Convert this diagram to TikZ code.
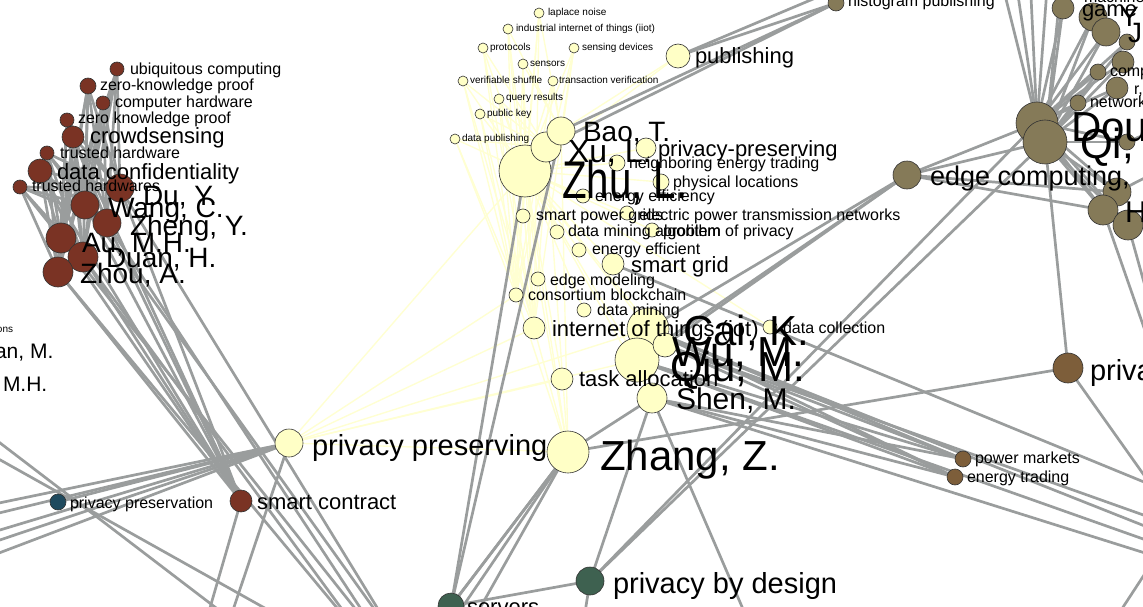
\documentclass[tikz,border=0pt]{standalone}
\usepackage{fontspec}
\setmainfont{Liberation Sans}
\usetikzlibrary{backgrounds}
\definecolor{brr}{HTML}{7A3324}
\definecolor{yel}{HTML}{FFFFC6}
\definecolor{olv}{HTML}{857A58}
\definecolor{brn}{HTML}{7D5E3A}
\definecolor{tlb}{HTML}{1F4A5E}
\definecolor{dkg}{HTML}{3E6150}
\definecolor{eg}{HTML}{9A9D9D}
\definecolor{ey}{HTML}{FFFFD2}
\definecolor{outl}{HTML}{333333}
\begin{document}
\begin{tikzpicture}[x=1pt,y=-1pt,
  vx/.style 2 args={circle, fill=#1, draw=outl, line width=0.6pt, minimum size={2*#2}, inner sep=0pt, outer sep=0pt},
  lb/.style={anchor=base west, inner sep=0pt, outer sep=0pt, text=black},
  f10/.style={lb, font=\fontsize{10}{12}\selectfont},
  f16/.style={lb, font=\fontsize{16}{18}\selectfont},
  f21/.style={lb, font=\fontsize{21}{24}\selectfont},
  f22/.style={lb, font=\fontsize{22}{24}\selectfont},
  f27/.style={lb, font=\fontsize{27}{30}\selectfont},
  f28/.style={lb, font=\fontsize{28}{30}\selectfont},
  f29/.style={lb, font=\fontsize{29}{32}\selectfont},
  f30/.style={lb, font=\fontsize{30}{32}\selectfont},
  f32/.style={lb, font=\fontsize{32}{34}\selectfont},
  f42/.style={lb, font=\fontsize{42}{44}\selectfont},
  f50/.style={lb, font=\fontsize{53}{55}\selectfont},
  ge/.style={draw=eg, line width=2.7pt},
  ye/.style={draw=ey, line width=1.4pt}]
\useasboundingbox (0,0) rectangle (1143,607);
\clip (0,0) rectangle (1143,607);

% ---------- left cluster nodes ----------
\node[vx={brr}{7}] (ubi) at (117,69) {};
\node[vx={brr}{8}] (zkp) at (88,86) {};
\node[vx={brr}{7}] (chw) at (103,103) {};
\node[vx={brr}{7}] (zkp2) at (67,120) {};
\node[vx={brr}{11}] (crowd) at (73,137) {};
\node[vx={brr}{7}] (thw) at (47,153) {};
\node[vx={brr}{12}] (dconf) at (40,171) {};
\node[vx={brr}{7}] (thws) at (20,187) {};
\node[vx={brr}{14}] (du) at (120,188) {};
\node[vx={brr}{14}] (wang) at (85,205) {};
\node[vx={brr}{14}] (zheng) at (107,223) {};
\node[vx={brr}{15}] (au) at (61,238) {};
\node[vx={brr}{15}] (duan) at (83,257) {};
\node[vx={brr}{15}] (zhou) at (58,272) {};
\node[vx={tlb}{8}] (pres) at (58,502) {};
\node[vx={brr}{11}] (sc) at (241,501) {};
\node[vx={yel}{14}] (pp) at (289,443) {};

% ---------- centre cluster nodes ----------
\node[vx={yel}{5}] (lap) at (539,13) {};
\node[vx={yel}{5}] (iiot) at (508,29) {};
\node[vx={yel}{5}] (proto) at (483,48) {};
\node[vx={yel}{5}] (sensd) at (574,48) {};
\node[vx={yel}{5}] (sensors) at (523,64) {};
\node[vx={yel}{5}] (verif) at (463,81) {};
\node[vx={yel}{5}] (trans) at (553,81) {};
\node[vx={yel}{5}] (query) at (499,99) {};
\node[vx={yel}{5}] (pkey) at (480,114) {};
\node[vx={yel}{5}] (dpub) at (455,139) {};
\node[vx={yel}{12}] (pub) at (678,56) {};
\node[vx={yel}{26}] (zhu) at (525,171) {};
\node[vx={yel}{15}] (xu) at (546,147) {};
\node[vx={yel}{14}] (bao) at (561,131) {};
\node[vx={yel}{10}] (ppg) at (646,148) {};
\node[vx={yel}{8}] (net) at (617,163) {};
\node[vx={yel}{8}] (phys) at (661,182) {};
\node[vx={yel}{7}] (eeff) at (583,196) {};
\node[vx={yel}{7}] (spg) at (523,216) {};
\node[vx={yel}{7}] (eptn) at (627,213) {};
\node[vx={yel}{7}] (dma) at (557,232) {};
\node[vx={yel}{7}] (pop) at (652,230) {};
\node[vx={yel}{7}] (eefft) at (579,250) {};
\node[vx={yel}{11}] (sg) at (613,264) {};
\node[vx={yel}{7}] (em) at (538,279) {};
\node[vx={yel}{7}] (cb) at (516,295) {};
\node[vx={yel}{7}] (dm) at (584,310) {};
\node[vx={yel}{11}] (iot) at (534,328) {};
\node[vx={yel}{7}] (dc) at (770,327) {};
\node[vx={yel}{21}] (cai) at (648,329) {};
\node[vx={yel}{22}] (qiu) at (637,360) {};
\node[vx={yel}{12}] (wu) at (665,345) {};
\node[vx={yel}{11}] (ta) at (562,379) {};
\node[vx={yel}{15}] (shen) at (652,398) {};
\node[vx={yel}{21}] (zhang) at (568,452) {};
\node[vx={dkg}{14}] (pbd) at (590,581) {};
\node[vx={dkg}{13}] (serv) at (451,606) {};

% ---------- right cluster nodes ----------
\node[vx={olv}{8}] (hist) at (836,3) {};
\node[vx={olv}{14}] (ec) at (907,175) {};
\node[vx={olv}{11}] (game) at (1063,8) {};
\node[vx={olv}{14}] (r1) at (1093,17) {};
\node[vx={olv}{14}] (r2) at (1106,32) {};
\node[vx={olv}{8}] (r3) at (1127,42) {};
\node[vx={olv}{11}] (r4) at (1123,62) {};
\node[vx={olv}{8}] (comp) at (1098,72) {};
\node[vx={olv}{11}] (r5) at (1117,88) {};
\node[vx={olv}{8}] (network) at (1078,103) {};
\node[vx={olv}{8}] (r6) at (1127,142) {};
\node[vx={olv}{21}] (dou) at (1037,123) {};
\node[vx={olv}{22}] (qi) at (1045,142) {};
\node[vx={olv}{14}] (h1) at (1117,192) {};
\node[vx={olv}{15}] (h2) at (1103,210) {};
\node[vx={olv}{15}] (h3) at (1128,225) {};
\node[vx={brn}{15}] (priva) at (1068,368) {};
\node[vx={brn}{8}] (pm) at (963,459) {};
\node[vx={brn}{8}] (et) at (955,477) {};

% ---------- free ends of connectors ----------
\coordinate (b1) at (372,650);
\coordinate (b2) at (388,650);
\coordinate (b3) at (400,645);
\coordinate (w1) at (-30,509);
\coordinate (w2) at (-30,520);
\coordinate (w3) at (-30,539);
\coordinate (w4) at (-30,550);
\coordinate (w5) at (-30,564);
\coordinate (pb1) at (228,625);
\coordinate (sb1) at (205,625);
\coordinate (ta1) at (-30,420);
\coordinate (ta2) at (245,630);
\coordinate (tb1) at (-30,443);
\coordinate (tb2) at (295,625);
\coordinate (pt1) at (870,-25);
\coordinate (z1) at (425,640);
\coordinate (z2) at (440,640);
\coordinate (z3) at (462,640);
\coordinate (pb2) at (583,625);
\coordinate (sb2) at (752,630);
\coordinate (sg1) at (1200,505);
\coordinate (e1) at (1180,540);
\coordinate (e2) at (1180,552);
\coordinate (e3) at (1180,528);
\coordinate (e4) at (1180,564);
\coordinate (pr1) at (1190,540);
\coordinate (t1) at (1000,-25);
\coordinate (t2) at (1015,-25);
\coordinate (t3) at (1030,-25);
\coordinate (t4) at (1048,-25);
\coordinate (t5) at (1062,-25);
\coordinate (rr1) at (1180,160);
\coordinate (rr2) at (1180,120);
\coordinate (rr3) at (1160,340);
\coordinate (rr4) at (1150,345);
\coordinate (br1) at (1180,520);
\coordinate (br2) at (1095,650);

% ---------- connectors ----------
\begin{scope}[on background layer]
\clip (0,0) rectangle (1143,607);
% light yellow connectors
\foreach \a in {lap,iiot,proto,sensd,sensors,verif,trans,query,pkey,dpub} {
  \draw[ye] (zhu) -- (\a);
  \draw[ye] (\a) -- (iot);
  \draw[ye] (\a) -- (cb);
}
\foreach \a in {lap,sensd,trans,iiot,sensors,pub} \draw[ye] (bao) -- (\a);
\foreach \a in {proto,verif,pkey,dpub,query} \draw[ye] (xu) -- (\a);
\foreach \a in {ppg,net,phys,eeff,spg,eptn,dma,pop,eefft,sg,em,cb,dm,iot,dc,ta,cai,qiu,wu,shen,zhang,pub} \draw[ye] (zhu) -- (\a);
\foreach \a in {zhu,iot,ta,qiu,cai,cb,zhang} \draw[ye] (pp) -- (\a);
\foreach \a in {xu,bao,iot,cb,em} \draw[ye] (zhang) -- (\a);
% grey connectors, left
\foreach \a in {ubi,zkp,chw,zkp2,crowd,thw,dconf,thws} {
  \foreach \b in {du,wang,zheng,au,duan,zhou} {\draw[ge] (\a) -- (\b);}
}
\foreach \a in {du,wang,zheng,au,duan,zhou,dconf,crowd} \draw[ge] (\a) -- (sc);
\foreach \a/\b in {zhou/b1,au/b2,duan/b1,wang/b3,zheng/b2,du/b3} \draw[ge] (\a) -- (\b);
\foreach \c in {w1,w2,w3,w4,w5} \draw[ge] (pp) -- (\c);
\draw[ge] (pp) -- (pb1);
\draw[ge] (sc) -- (sb1);
\draw[ge] (ta1) -- (ta2);
\draw[ge] (tb1) -- (tb2);
\draw[ge] (pres) -- (pp);
% grey connectors, centre and right
\foreach \a/\b in {bao/hist,xu/hist,pub/hist,pub/pt1,bao/serv,zhu/serv,
  zhang/serv,zhang/z1,zhang/z2,zhang/z3,serv/pbd,pbd/dou,pbd/qi,pbd/pb2,
  shen/pbd,shen/sb2,zhang/shen,zhang/priva,sg/sg1,
  cai/pm,cai/et,qiu/pm,qiu/et,wu/et,wu/pm,shen/pm,shen/et,
  cai/e1,qiu/e2,wu/e3,shen/e4,priva/pr1,qi/priva,
  ec/cai,ec/wu,ec/qiu,ec/dou,ec/qi,ec/h1,ec/h2,
  t1/dou,t2/dou,t3/dou,t4/dou,t5/qi,
  h1/rr1,r6/rr2,h3/rr3,h2/rr4,br1/br2}
  \draw[ge] (\a) -- (\b);
\foreach \a in {game,r1,r2,r3,r4,comp,r5,network,r6,h1,h2,h3} {
  \draw[ge] (\a) -- (dou);
  \draw[ge] (\a) -- (qi);
}
\end{scope}

% ---------- labels ----------
\node[f16] (l-ubi) at (130,75) {ubiquitous computing};
\node[f16] (l-zkp) at (100,91) {zero-knowledge proof};
\node[f16] (l-chw) at (115,108) {computer hardware};
\node[f16] (l-zkp2) at (78,124) {zero knowledge proof};
\node[f22] (l-crowd) at (90,144) {crowdsensing};
\node[f16] (l-thw) at (60,158) {trusted hardware};
\node[f22] (l-dconf) at (57,179) {data confidentiality};
\node[f16] (l-thws) at (32,191) {trusted hardwares};
\node[f28] (l-du) at (143,205) {Du, Y.};
\node[f28] (l-wang) at (108,217) {Wang, C.};
\node[f28] (l-zheng) at (130,235) {Zheng, Y.};
\node[f28] (l-au) at (82,252) {Au, M.H.};
\node[f28] (l-duan) at (106,267) {Duan, H.};
\node[f28] (l-zhou) at (80,283) {Zhou, A.};
\node[f10] (l-ons) at (-3,332) {ons};
\node[f21] (l-anm) at (-5,358) {an, M.};
\node[f21] (l-mh) at (3,391) {M.H.};
\node[f16] (l-pres) at (70,508) {privacy preservation};
\node[f22] (l-sc) at (257,509) {smart contract};
\node[f29] (l-pp) at (312,455) {privacy preserving};

\node[f10] (l-lap) at (548,16) {laplace noise};
\node[f10] (l-iiot) at (516,32) {industrial internet of things (iiot)};
\node[f10] (l-proto) at (490,51) {protocols};
\node[f10] (l-sensd) at (582,51) {sensing devices};
\node[f10] (l-sensors) at (530,67) {sensors};
\node[f10] (l-verif) at (470,84) {verifiable shuffle};
\node[f10] (l-trans) at (559,84) {transaction verification};
\node[f10] (l-query) at (506,101) {query results};
\node[f10] (l-pkey) at (487,117) {public key};
\node[f10] (l-dpub) at (462,142) {data publishing};
\node[f22] (l-pub) at (695,64) {publishing};
\node[f28] (l-bao) at (583,142) {Bao, T.};
\node[f32] (l-xu) at (568,163) {Xu, L.};
\node[f50] (l-zhu) at (562,198) {\scalebox{0.76}[1]{Zhu, L.}};
\node[f22] (l-ppg) at (658,157) {privacy-preserving};
\node[f16] (l-net) at (629,168) {neighboring energy trading};
\node[f16] (l-phys) at (673,187) {physical locations};
\node[f16] (l-eeff) at (595,201) {energy efficiency};
\node[f16] (l-spg) at (536,220) {smart power grids};
\node[f16] (l-eptn) at (639,220) {electric power transmission networks};
\node[f16] (l-dma) at (568,236) {data mining algorithm};
\node[f16] (l-pop) at (663,236) {problem of privacy};
\node[f16] (l-eefft) at (592,254) {energy efficient};
\node[f22] (l-sg) at (631,272) {smart grid};
\node[f16] (l-em) at (550,285) {edge modeling};
\node[f16] (l-cb) at (528,300) {consortium blockchain};
\node[f16] (l-dm) at (597,315) {data mining};
\node[f22] (l-iot) at (552,336) {internet of things (iot)};
\node[f16] (l-dc) at (783,333) {data collection};
\node[f42] (l-cai) at (683,345) {Cai, K.};
\node[f42] (l-wu) at (672,366) {Wu, M.};
\node[f42] (l-qiu) at (670,381) {Qiu, M.};
\node[f22] (l-ta) at (579,386) {task allocation};
\node[f30] (l-shen) at (676,409) {Shen, M.};
\node[f42] (l-zhang) at (600,470) {Zhang, Z.};
\node[f29] (l-pbd) at (613,593) {privacy by design};
\node[f22] (l-serv) at (467,614) {servers};

\node[f16] (l-hist) at (848,7) {histogram publishing};
\node[f27] (l-ec) at (930,185) {edge computing,};
\node[f16] (l-mach) at (1084,3) {machine};
\node[f22] (l-game) at (1082,17) {game};
\node[f28] (l-y) at (1120,27) {Y};
\node[f28] (l-j) at (1128,43) {J};
\node[f16] (l-comp) at (1110,77) {comp};
\node[f16] (l-r) at (1134,95) {r,};
\node[f16] (l-network) at (1090,108) {network};
\node[f42] (l-dou) at (1071,142) {Dou};
\node[f42] (l-qi) at (1080,158) {Qi,};
\node[f30] (l-h) at (1125,222) {H};
\node[f29] (l-priva) at (1090,380) {privacy};
\node[f16] (l-pm) at (975,463) {power markets};
\node[f16] (l-et) at (967,482) {energy trading};
\end{tikzpicture}
\end{document}
